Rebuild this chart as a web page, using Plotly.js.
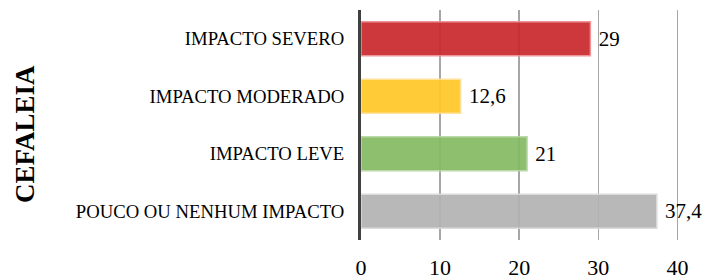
<!DOCTYPE html>
<html>
<head>
<meta charset="utf-8">
<script src="https://cdn.plot.ly/plotly-3.0.1.min.js"></script>
<style>html,body{margin:0;padding:0;background:#fff;}#chart{width:710px;height:280px;}</style>
</head>
<body>
<div id="chart"></div>
<script>
const categories = ["IMPACTO SEVERO", "IMPACTO MODERADO", "IMPACTO LEVE", "POUCO OU NENHUM IMPACTO"];
const values = [29, 12.6, 21, 37.4];
const barColors = ["#C8282B", "#FFC726", "#85BA63", "#B2B2B2"];
const borderColors = ["#EC8C8E", "#FFE08F", "#B6D7A2", "#D9D9D9"];
const xTicks = [0, 10, 20, 30, 40];
const axisTitle = "CEFALEIA";

const labels = values.map(v => ' ' + String(v).replace('.', ','));

const serif = '"Liberation Serif", "Times New Roman", serif';

const trace = {
  type: 'bar',
  orientation: 'h',
  x: values,
  y: categories,
  text: labels,
  textposition: 'outside',
  cliponaxis: false,
  textfont: {family: serif, size: 21, color: '#000'},
  marker: {color: barColors, opacity: 0.92, line: {color: borderColors, width: 1.5}},
  hoverinfo: 'none'
};

const layout = {
  width: 710, height: 280,
  margin: {l: 361, r: 31, t: 10, b: 40},
  paper_bgcolor: '#fff', plot_bgcolor: '#fff',
  font: {family: serif, color: '#000'},
  showlegend: false,
  bargap: 0.41,
  xaxis: {
    range: [0, 40.2],
    tickvals: xTicks,
    ticktext: xTicks.map(String),
    showgrid: true, gridcolor: '#A6A6A6', gridwidth: 1.5,
    zeroline: false, showline: false, ticks: '',
    tickfont: {family: serif, size: 22, color: '#000'},
    ticklabelstandoff: 12,
    automargin: false, fixedrange: true
  },
  yaxis: {
    autorange: 'reversed',
    showgrid: false, zeroline: false,
    showline: true, linecolor: '#404040', linewidth: 3,
    ticks: '',
    tickfont: {family: serif, size: 18.7, color: '#000'},
    ticklabelstandoff: 10,
    automargin: false, fixedrange: true
  },
  annotations: [{
    text: '<b>' + axisTitle + '</b>',
    xref: 'paper', yref: 'paper',
    x: 0, y: 0.461,
    xanchor: 'center', yanchor: 'middle',
    xshift: -336,
    textangle: -90,
    showarrow: false,
    font: {family: serif, size: 27, color: '#000'}
  }]
};

Plotly.newPlot('chart', [trace], layout, {displayModeBar: false, staticPlot: true});
</script>
</body>
</html>
